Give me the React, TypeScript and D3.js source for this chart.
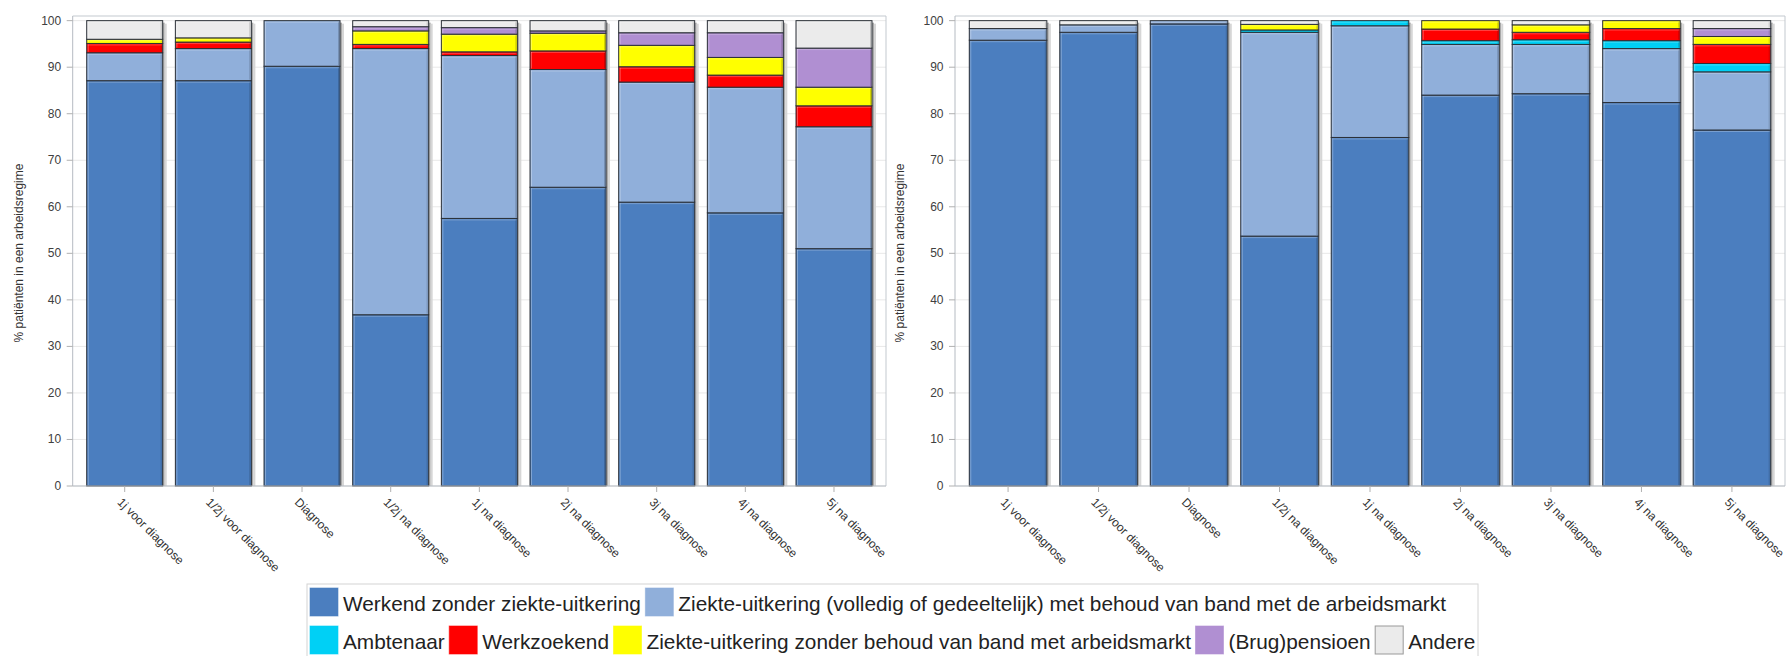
import React from "react";
import * as d3 from "d3";

const categories = [
  "1j voor diagnose",
  "1/2j voor diagnose",
  "Diagnose",
  "1/2j na diagnose",
  "1j na diagnose",
  "2j na diagnose",
  "3j na diagnose",
  "4j na diagnose",
  "5j na diagnose",
];

const seriesNames = [
  "Werkend zonder ziekte-uitkering",
  "Ziekte-uitkering (volledig of gedeeltelijk) met behoud van band met de arbeidsmarkt",
  "Ambtenaar",
  "Werkzoekend",
  "Ziekte-uitkering zonder behoud van band met arbeidsmarkt",
  "(Brug)pensioen",
  "Andere",
];
const seriesColors = ["#4b7ebf", "#90afda", "#00d0f5", "#ff0000", "#ffff00", "#b08fd2", "#ebebeb"];

// Left panel
const leftWerkend = [87.1, 87.1, 90.2, 36.8, 57.5, 64.2, 61.0, 58.7, 51.0];
const leftZiekteBehoud = [6.0, 6.9, 9.8, 57.2, 35.0, 25.3, 25.8, 27.0, 26.2];
const leftAmbtenaar = [0, 0, 0, 0, 0, 0, 0, 0, 0];
const leftWerkzoekend = [2.0, 1.4, 0, 0.9, 0.8, 4.0, 3.3, 2.6, 4.5];
const leftZiekteZonder = [0.9, 0.9, 0, 2.9, 3.8, 3.8, 4.6, 3.8, 4.0];
const leftPensioen = [0, 0, 0, 0.9, 1.4, 0.5, 2.7, 5.3, 8.4];
const leftAndere = [4.0, 3.7, 0, 1.3, 1.5, 2.2, 2.6, 2.6, 5.9];

// Right panel
const rightWerkend = [95.8, 97.5, 99.3, 53.7, 74.9, 84.0, 84.3, 82.4, 76.5];
const rightZiekteBehoud = [2.5, 1.6, 0.7, 43.8, 24.0, 10.9, 10.6, 11.6, 12.5];
const rightAmbtenaar = [0, 0, 0, 0.5, 1.1, 0.8, 1.0, 1.7, 1.8];
const rightWerkzoekend = [0, 0, 0, 0, 0, 2.5, 1.6, 2.6, 4.1];
const rightZiekteZonder = [0, 0, 0, 1.2, 0, 1.8, 1.6, 1.7, 1.7];
const rightPensioen = [0, 0, 0, 0, 0, 0, 0, 0, 1.7];
const rightAndere = [1.7, 0.9, 0, 0.8, 0, 0, 0.9, 0, 1.7];

const yTicks = [0, 10, 20, 30, 40, 50, 60, 70, 80, 90, 100];
const yAxisLabel = "% patiënten in een arbeidsregime";

const FONT = "'Liberation Sans', Arial, Helvetica, sans-serif";
const W = 1787;
const H = 656;

function buildTable(cols: number[][]) {
  return categories.map((c, i) => {
    const row: any = { cat: c };
    seriesNames.forEach((s, k) => (row[s] = cols[k][i]));
    return row;
  });
}

const leftTable = buildTable([
  leftWerkend, leftZiekteBehoud, leftAmbtenaar, leftWerkzoekend, leftZiekteZonder, leftPensioen, leftAndere,
]);
const rightTable = buildTable([
  rightWerkend, rightZiekteBehoud, rightAmbtenaar, rightWerkzoekend, rightZiekteZonder, rightPensioen, rightAndere,
]);

const yScale = d3.scaleLinear().domain([0, 101]).range([486, 16]);

function Panel({ table, left, right, labelX, id }: any) {
  const x = d3
    .scaleBand()
    .domain(categories)
    .range([left, right])
    .paddingInner(0.143)
    .paddingOuter(0.158);
  const stack = d3.stack().keys(seriesNames)(table);
  const bw = x.bandwidth();
  const top = yScale.range()[1];
  const bottom = yScale.range()[0];
  return (
    <g>
      {yTicks.map((t) => (
        <line key={"g" + t} x1={left} x2={right} y1={yScale(t)} y2={yScale(t)} stroke="#e8e8e8" strokeWidth={1} />
      ))}
      <line x1={left} x2={right} y1={top} y2={top} stroke="#c3c9cf" />
      <line x1={right} x2={right} y1={top} y2={bottom} stroke="#c3c9cf" />
      {categories.map((c) => {
        const x0 = x(c)!;
        return (
          <g key={"s" + c}>
            <rect x={x0 + bw} y={yScale(100) + 2} width={2} height={bottom - yScale(100) - 2} fill="#a9a9a9" />
            <rect x={x0 + bw + 2} y={yScale(100) + 3} width={2} height={bottom - yScale(100) - 3} fill="#d6d6d6" />
          </g>
        );
      })}
      {stack.map((layer, k) =>
        layer.map((d, i) => {
          const v = d[1] - d[0];
          if (v <= 0) return null;
          const x0 = x(categories[i])!;
          const y1 = yScale(d[1]);
          const y0 = yScale(d[0]);
          const h = y0 - y1;
          return (
            <g key={id + k + "-" + i}>
              <rect x={x0} y={y1} width={bw} height={h} fill={seriesColors[k]} stroke="#2a2f36" strokeWidth={1} />
              {h > 3 && (
                <>
                  <line x1={x0 + 1.5} x2={x0 + 1.5} y1={y1 + 1} y2={y0 - 1} stroke="#ffffff" strokeOpacity={0.3} />
                  <line x1={x0 + bw - 1.5} x2={x0 + bw - 1.5} y1={y1 + 1} y2={y0 - 1} stroke="#000" strokeOpacity={0.18} />
                  <line x1={x0 + 1} x2={x0 + bw - 1} y1={y1 + 1.5} y2={y1 + 1.5} stroke="#ffffff" strokeOpacity={0.25} />
                </>
              )}
            </g>
          );
        })
      )}
      <line x1={left} x2={left} y1={top} y2={bottom} stroke="#b5bbc2" />
      <line x1={left} x2={right} y1={bottom} y2={bottom} stroke="#b5bbc2" />
      {yTicks.map((t) => (
        <g key={"yt" + t}>
          <line x1={left - 6} x2={left} y1={yScale(t)} y2={yScale(t)} stroke="#b0b0b0" />
          <text
            x={left - 11.5}
            y={yScale(t)}
            textAnchor="end"
            dominantBaseline="central"
            fontSize={12}
            fontFamily={FONT}
            fill="#404040"
          >
            {t}
          </text>
        </g>
      ))}
      {categories.map((c) => {
        const cx = x(c)! + bw / 2;
        return (
          <g key={"xt" + c}>
            <line x1={cx} x2={cx} y1={bottom} y2={bottom + 6} stroke="#b0b0b0" />
            <text
              transform={`translate(${cx - 8},${bottom + 17}) rotate(45)`}
              fontSize={12}
              fontFamily={FONT}
              fill="#333"
            >
              {c}
            </text>
          </g>
        );
      })}
      <text
        transform={`translate(${labelX},${(top + bottom) / 2 + 2}) rotate(-90)`}
        textAnchor="middle"
        dominantBaseline="central"
        fontSize={12}
        fontFamily={FONT}
        fill="#333"
      >
        {yAxisLabel}
      </text>
    </g>
  );
}

function measure(text: string, size: number) {
  if (typeof document === "undefined") return text.length * size * 0.5;
  const cv = document.createElement("canvas");
  const ctx = cv.getContext("2d")!;
  ctx.font = `${size}px ${FONT}`;
  return ctx.measureText(text).width;
}

function Legend() {
  const fs = 20.8;
  const rows = [
    [0, 1],
    [2, 3, 4, 5, 6],
  ];
  const rowTops = [588, 626];
  const startX = 310;
  const sw = 28;
  const gapIn = 5;
  const gapOut = 4.5;
  const items: any[] = [];
  rows.forEach((r, ri) => {
    let cx = startX;
    r.forEach((k) => {
      const tw = measure(seriesNames[k], fs);
      items.push(
        <g key={"lg" + k}>
          <rect x={cx} y={rowTops[ri]} width={sw} height={sw} fill={seriesColors[k]} stroke={k === 6 ? "#999" : seriesColors[k]} strokeOpacity={k === 6 ? 1 : 0.6} />
          <text x={cx + sw + gapIn} y={rowTops[ri] + 23} fontSize={fs} fontFamily={FONT} fill="#222">
            {seriesNames[k]}
          </text>
        </g>
      );
      cx += sw + gapIn + tw + gapOut;
    });
  });
  return (
    <g>
      <rect x={307} y={584} width={1171} height={80} fill="#fff" stroke="#d4d4d4" />
      {items}
    </g>
  );
}

export default function App() {
  return (
    <svg
      width={W}
      height={H}
      viewBox={`0 0 ${W} ${H}`}
      style={{ position: "absolute", left: 0, top: 0, background: "#fff" }}
    >
      <rect x={0} y={0} width={W} height={H} fill="#fff" />
      <Panel id="L" table={leftTable} left={72.7} right={886} labelX={19} />
      <Panel id="R" table={rightTable} left={955} right={1785} labelX={900} />
      <Legend />
    </svg>
  );
}
